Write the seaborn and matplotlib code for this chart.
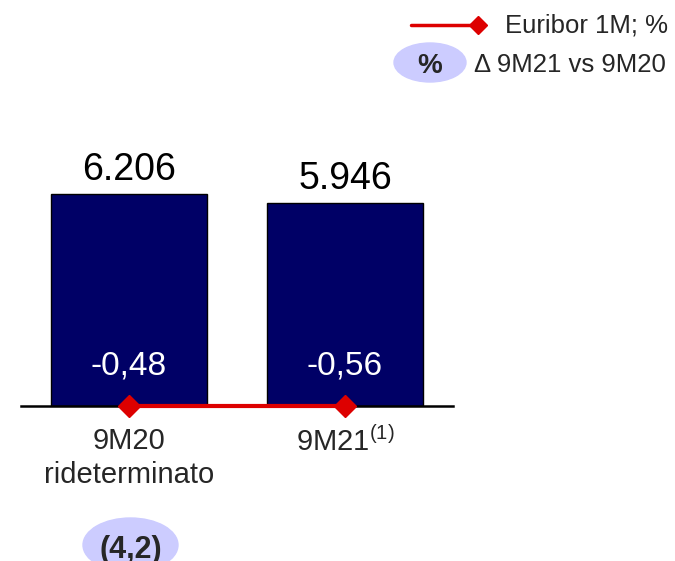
import numpy as np
import pandas as pd
import seaborn as sns
import matplotlib.pyplot as plt
from matplotlib.patches import Ellipse

categories = ['9M20', '9M21']
tick_labels = ['9M20\nrideterminato', '9M21$^{\\mathrm{(1)}}$']
volumes = [6206, 5946]
volume_labels = ['6.206', '5.946']
euribor = [-0.48, -0.56]
euribor_labels = ['-0,48', '-0,56']
delta_label = '(4,2)'

NAVY = '#000066'
RED = '#dd0000'
LILAC = '#ccccff'

W, H = 675, 561


def fx(px):
    return px / W


def fy(py):
    return 1 - py / H


sns.set_style('white')
plt.rcParams['font.family'] = ['Liberation Sans', 'DejaVu Sans']
plt.rcParams['mathtext.fontset'] = 'custom'
plt.rcParams['mathtext.rm'] = 'Liberation Sans'

fig = plt.figure(figsize=(W / 100, H / 100), dpi=100)
ax = fig.add_axes([fx(21), fy(406), fx(453) - fx(21), fy(100) - fy(406)])

df = pd.DataFrame({'period': categories, 'volume': volumes, 'euribor': euribor})
sns.barplot(data=df, x='period', y='volume', color=NAVY, saturation=1,
            width=0.72, edgecolor='black', linewidth=1, ax=ax)

# euribor line sits on the baseline, values written inside the bars
ax.plot(range(len(df)), np.zeros(len(df)), color=RED, lw=3, marker='D',
        markersize=11, clip_on=False, zorder=5)

for i, (v, lab, el) in enumerate(zip(volumes, volume_labels, euribor_labels)):
    ax.text(i, v + 180, lab, ha='center', va='bottom', fontsize=27, color='black')
    ax.text(i, 1170, el, ha='center', va='center', fontsize=24, color='white')

ax.set_xlim(-0.5, 1.5)
ax.set_ylim(0, 8960)
ax.set_yticks([])
ax.set_xlabel('')
ax.set_ylabel('')
ax.set_xticks(range(len(df)))
ax.set_xticklabels(tick_labels, fontsize=21, linespacing=1.3)
ax.tick_params(axis='x', length=0, pad=15)
for s in ['left', 'right', 'top']:
    ax.spines[s].set_visible(False)
ax.spines['bottom'].set_color('black')
ax.spines['bottom'].set_linewidth(1.8)

# delta bubble under first bar
fig.patches.append(Ellipse((fx(130.5), fy(545)), fx(95), 54 / H, color=LILAC,
                           transform=fig.transFigure, zorder=0))
fig.text(fx(130.5), fy(550), delta_label, fontsize=22, fontweight='bold',
         ha='center', va='center')

# legend
fig.lines.append(plt.Line2D([fx(411), fx(478)], [fy(25), fy(25)], color=RED, lw=2.5,
                            transform=fig.transFigure))
fig.lines.append(plt.Line2D([fx(478)], [fy(25)], color=RED, marker='D', markersize=9,
                            transform=fig.transFigure))
fig.text(fx(505), fy(25), 'Euribor 1M; %', fontsize=18.5, ha='left', va='center')
fig.patches.append(Ellipse((fx(430), fy(62.5)), fx(72), 39 / H, color=LILAC,
                           transform=fig.transFigure, zorder=0))
fig.text(fx(430), fy(66), '%', fontsize=20, fontweight='bold', ha='center', va='center')
fig.text(fx(474), fy(65), '\u0394 9M21 vs 9M20', fontsize=18.5, ha='left', va='center')

fig.savefig('out.png', dpi=100)
